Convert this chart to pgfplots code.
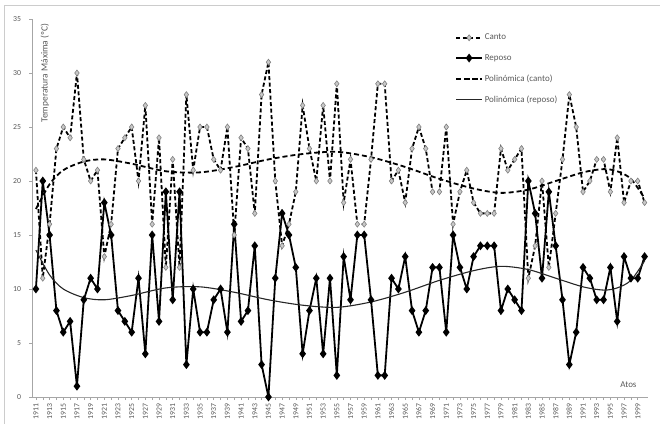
\documentclass[border=0pt]{standalone}
\usepackage{fontspec}
\setmainfont{Carlito}
\usepackage{pgfplots}
\usepackage{pgfplotstable}
\pgfplotsset{compat=1.18}

\definecolor{txt}{HTML}{595959}
\definecolor{axl}{HTML}{A6A6A6}
\definecolor{mk}{HTML}{C8C8C8}

% dias de canto / reposo por ano
\pgfplotstableread{
year canto reposo
1911 21 10
1912 11 20
1913 16 15
1914 23 8
1915 25 6
1916 24 7
1917 30 1
1918 22 9
1919 20 11
1920 21 10
1921 13 18
1922 16 15
1923 23 8
1924 24 7
1925 25 6
1926 20 11
1927 27 4
1928 16 15
1929 24 7
1930 12 19
1931 22 9
1932 12 19
1933 28 3
1934 21 10
1935 25 6
1936 25 6
1937 22 9
1938 21 10
1939 25 6
1940 15 16
1941 24 7
1942 23 8
1943 17 14
1944 28 3
1945 31 0
1946 20 11
1947 14 17
1948 16 15
1949 19 12
1950 27 4
1951 23 8
1952 20 11
1953 27 4
1954 20 11
1955 29 2
1956 18 13
1957 22 9
1958 16 15
1959 16 15
1960 22 9
1961 29 2
1962 29 2
1963 20 11
1964 21 10
1965 18 13
1966 23 8
1967 25 6
1968 23 8
1969 19 12
1970 19 12
1971 25 6
1972 16 15
1973 19 12
1974 21 10
1975 18 13
1976 17 14
1977 17 14
1978 17 14
1979 23 8
1980 21 10
1981 22 9
1982 23 8
1983 11 20
1984 14 17
1985 20 11
1986 12 19
1987 17 14
1988 22 9
1989 28 3
1990 25 6
1991 19 12
1992 20 11
1993 22 9
1994 22 9
1995 19 12
1996 24 7
1997 18 13
1998 20 11
1999 20 11
2000 18 13
}\datos

% linhas de tendencia
\pgfplotstableread{
year tc tr
1911 17.4 13.6
1913 19.7 11.3
1915 21.0 10.0
1918 21.8 9.2
1921 22.0 9.0
1925 21.6 9.4
1930 20.9 10.1
1935 20.8 10.2
1940 21.3 9.7
1945 22.0 9.0
1950 22.5 8.5
1955 22.7 8.3
1960 22.2 8.8
1965 21.3 9.7
1970 20.2 10.8
1975 19.3 11.7
1979 18.9 12.1
1983 19.2 11.8
1987 20.0 11.0
1991 20.8 10.2
1994 21.1 9.9
1996 20.9 10.1
1998 20.2 10.8
2000 18.4 12.6
}\tendencia

\begin{document}
\begin{tikzpicture}
\begin{axis}[
    scale only axis,
    width=615.5bp, height=378bp,
    xmin=1910.5, xmax=2000.5,
    ymin=0, ymax=35,
    axis lines*=left,
    axis line style={axl, line width=0.6bp},
    xtick={1911,1913,...,1999},
    minor x tick num=1,
    ytick={0,5,...,35},
    tick align=outside,
    major tick length=3bp, minor tick length=3bp,
    tick style={axl, line width=0.5bp},
    x tick label style={rotate=90, anchor=east, font=\fontsize{7.8}{9}\selectfont, text=txt},
    y tick label style={font=\fontsize{7.8}{9}\selectfont, text=txt, xshift=-5bp},
    /pgf/number format/1000 sep={},
    /pgf/number format/assume math mode=true,
    legend style={at={(rel axis cs:0.682,0.971)}, anchor=north west,
        draw=none, fill=none, font=\fontsize{9}{11}\selectfont, text=txt,
        row sep=9bp, cells={anchor=west}},
    legend image code/.code={\draw[mark repeat=2,mark phase=2]
        plot coordinates {(0cm,0cm) (0.45cm,0cm) (0.9cm,0cm)};},
]
\addplot[black, line width=1.8bp, dash pattern=on 4bp off 2.5bp,
    mark=diamond*, mark size=3bp,
    mark options={solid, fill=mk, draw=gray, line width=0.6bp}]
    table[x=year, y=canto] {\datos};
\addplot[black, line width=1.8bp, mark=diamond*, mark size=3bp,
    mark options={solid, fill=black}]
    table[x=year, y=reposo] {\datos};
\addplot[black, line width=1.8bp, dash pattern=on 5bp off 3bp, smooth]
    table[x=year, y=tc] {\tendencia};
\addplot[black!85, line width=1.1bp, smooth]
    table[x=year, y=tr] {\tendencia};
\legend{Canto, Reposo, Polinómica (canto), Polinómica (reposo)}

\node[rotate=90, anchor=east, font=\fontsize{9.5}{11}\selectfont, text=txt]
    at (rel axis cs:0.0203,0.997) {Temperatura Máxima (ºC)};
\node[anchor=east, font=\fontsize{9}{11}\selectfont, text=txt]
    at (rel axis cs:0.987,0.032) {Atos};
\end{axis}
\draw[black!20, line width=0.8bp] (-28.5bp,-27bp) -- (-28.5bp,392bp) -- (627.5bp,392bp);
\pgfresetboundingbox
\path[use as bounding box] (-32.5bp,-27bp) rectangle (627.5bp,397bp);
\end{tikzpicture}
\end{document}
